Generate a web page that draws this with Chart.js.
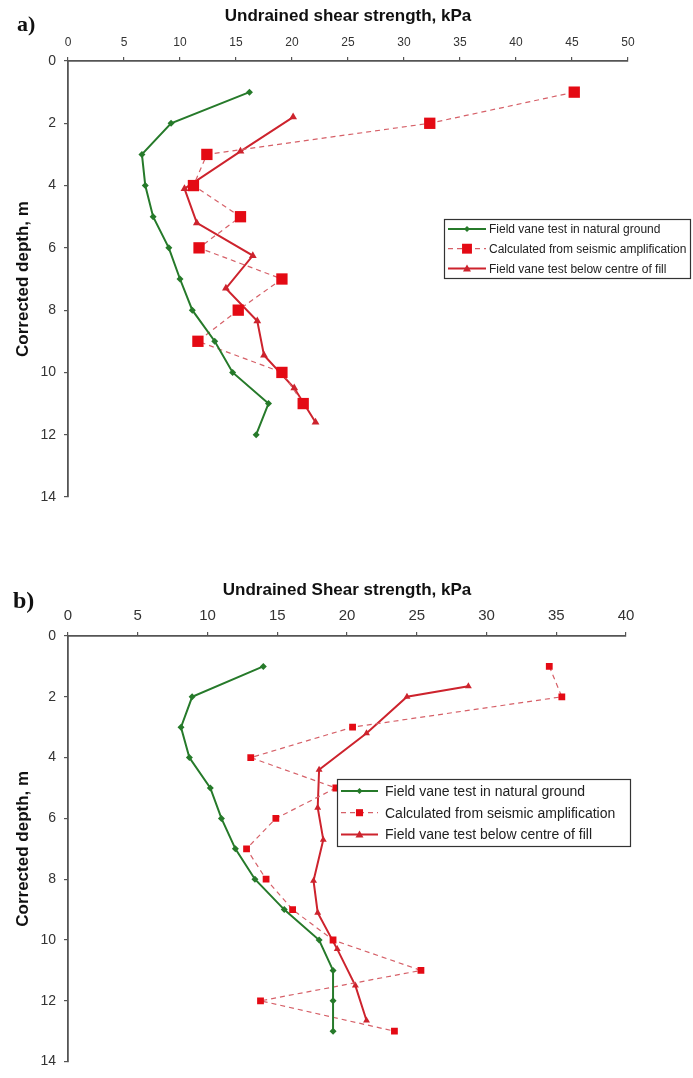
<!DOCTYPE html>
<html>
<head>
<meta charset="utf-8">
<script src="https://cdn.jsdelivr.net/npm/chart.js"></script>
<style>
  body { margin: 0; background: #fff; }
  #page { position: relative; width: 693px; height: 1078px; overflow: hidden; }
  .panel { position: absolute; left: 0; }
  .tag { position: absolute; font-family: "Liberation Serif", "DejaVu Serif", serif; font-weight: bold; line-height: 1; color: #111; }
</style>
</head>
<body>
<div id="page">
  <div class="panel" style="top:0px"><canvas id="chartA" width="693" height="540"></canvas></div>
  <div class="panel" style="top:560px"><canvas id="chartB" width="693" height="518"></canvas></div>
  <div class="tag" style="left:17px; top:13px; font-size:22px">a)</div>
  <div class="tag" style="left:13px; top:588px; font-size:24px">b)</div>
</div>
<script>
// panel a) - depths in m, strengths in kPa
const natDepthA = [1, 2, 3, 4, 5, 6, 7, 8, 9, 10, 11, 12];
const natGroundA = [16.2, 9.2, 6.6, 6.9, 7.6, 9.0, 10.0, 11.1, 13.1, 14.7, 17.9, 16.8];
const seisDepthA = [1, 2, 3, 4, 5, 6, 7, 8, 9, 10, 11];
const seismicA = [45.2, 32.3, 12.4, 11.2, 15.4, 11.7, 19.1, 15.2, 11.6, 19.1, 21.0];
const fillDepthA = [1.8, 2.9, 4.1, 5.2, 6.25, 7.3, 8.35, 9.45, 10.5, 11.6];
const fillA = [20.1, 15.4, 10.4, 11.5, 16.5, 14.1, 16.9, 17.5, 20.2, 22.1];

// panel b)
const natDepthB = [1, 2, 3, 4, 5, 6, 7, 8, 9, 10, 11, 12, 13];
const natGroundB = [14.0, 8.9, 8.1, 8.7, 10.2, 11.0, 12.0, 13.4, 15.5, 18.0, 19.0, 19.0, 19.0];
const seisDepthB = [1, 2, 3, 4, 5, 6, 7, 8, 9, 10, 11, 12, 13];
const seismicB = [34.5, 35.4, 20.4, 13.1, 19.2, 14.9, 12.8, 14.2, 16.1, 19.0, 25.3, 13.8, 23.4];
const fillDepthB = [1.65, 2.0, 3.2, 4.4, 5.65, 6.7, 8.05, 9.1, 10.3, 11.5, 12.65];
const fillB = [28.7, 24.3, 21.4, 18.0, 17.9, 18.3, 17.6, 17.9, 19.3, 20.6, 21.4];

const seriesNames = [
  'Field vane test in natural ground',
  'Calculated from seismic amplification',
  'Field vane test below centre of fill'
];
const depthTicks = [0, 2, 4, 6, 8, 10, 12, 14];

const FONT = '"Liberation Sans", Arial, sans-serif';
const GREEN = 'rgb(38,122,42)';
const RED = 'rgb(205,35,45)';
const SQUARE = 'rgb(228,10,20)';
const DASHED = 'rgb(214,96,104)';

function pts(xs, ys) {
  return xs.map((v, i) => ({ x: v, y: ys[i] }));
}

// small marker shapes for the legend samples
function marker(ctx, style, x, y, r) {
  ctx.beginPath();
  if (style === 'rect') {
    const s = r * Math.SQRT1_2;
    ctx.rect(x - s, y - s, 2 * s, 2 * s);
  } else if (style === 'rectRot') {
    ctx.moveTo(x, y - r); ctx.lineTo(x + r, y); ctx.lineTo(x, y + r); ctx.lineTo(x - r, y);
    ctx.closePath();
  } else {
    const h = r * 1.5, w = r * 0.87;
    ctx.moveTo(x, y - r); ctx.lineTo(x + w * 1.15, y + h / 2); ctx.lineTo(x - w * 1.15, y + h / 2);
    ctx.closePath();
  }
  ctx.fill();
}

// boxed legend drawn inside the plot, over the data
const boxLegend = {
  id: 'boxLegend',
  afterDatasetsDraw(chart, args, o) {
    const ctx = chart.ctx;
    const dsets = chart.data.datasets;
    ctx.save();
    ctx.fillStyle = '#fff';
    ctx.fillRect(o.x, o.y, o.w, o.h);
    ctx.strokeStyle = '#333';
    ctx.lineWidth = 1.2;
    ctx.strokeRect(o.x + 0.5, o.y + 0.5, o.w, o.h);
    ctx.font = o.fontSize + 'px ' + FONT;
    ctx.textBaseline = 'middle';
    dsets.forEach((ds, i) => {
      const cy = o.y + o.first + i * o.row;
      ctx.strokeStyle = ds.borderColor;
      ctx.lineWidth = ds.borderWidth;
      ctx.setLineDash(ds.borderDash || []);
      ctx.beginPath();
      ctx.moveTo(o.x + 4, cy);
      ctx.lineTo(o.x + 4 + o.sample, cy);
      ctx.stroke();
      ctx.setLineDash([]);
      ctx.fillStyle = ds.pointBackgroundColor;
      marker(ctx, ds.pointStyle, o.x + 4 + o.sample / 2, cy, o.marks[i]);
      ctx.fillStyle = '#222';
      ctx.fillText(ds.label, o.x + o.textX, cy + 1);
    });
    ctx.restore();
  }
};

function makePanel(id, cfg) {
  new Chart(document.getElementById(id), {
    type: 'scatter',
    data: {
      datasets: [
        {
          label: seriesNames[0], data: pts(cfg.nat, cfg.natDepth), showLine: true,
          borderColor: GREEN, borderWidth: 2, pointStyle: 'rectRot',
          pointRadius: cfg.r[0], pointBackgroundColor: GREEN, pointBorderColor: GREEN, pointBorderWidth: 0
        },
        {
          label: seriesNames[1], data: pts(cfg.seis, cfg.seisDepth), showLine: true,
          borderColor: DASHED, borderWidth: 1.2, borderDash: [5, 4], pointStyle: 'rect',
          pointRadius: cfg.r[1], pointBackgroundColor: SQUARE, pointBorderColor: SQUARE, pointBorderWidth: 0
        },
        {
          label: seriesNames[2], data: pts(cfg.fill, cfg.fillDepth), showLine: true,
          borderColor: RED, borderWidth: 2, pointStyle: 'triangle',
          pointRadius: cfg.r[2], pointBackgroundColor: RED, pointBorderColor: RED, pointBorderWidth: 0
        }
      ]
    },
    options: {
      responsive: false,
      animation: false,
      devicePixelRatio: 1,
      layout: { padding: cfg.pad },
      plugins: {
        legend: { display: false },
        tooltip: { enabled: false },
        boxLegend: cfg.legend
      },
      scales: {
        x: {
          type: 'linear', position: 'top', min: 0, max: cfg.xMax,
          ticks: { stepSize: 5, color: '#333', padding: 7, font: { family: FONT, size: cfg.xTickSize } },
          grid: { drawOnChartArea: false, tickLength: 4, color: '#555', lineWidth: 1.2 },
          border: { color: '#555', width: 1.8 },
          title: {
            display: true, text: cfg.title, color: '#111',
            font: { family: FONT, size: 17, weight: 'bold' }, padding: { top: cfg.titleTop, bottom: 0 }
          },
          afterFit: s => { s.height = cfg.axisTop; }
        },
        y: {
          type: 'linear', position: 'left', reverse: true, min: 0, max: 14,
          afterBuildTicks: s => { s.ticks = depthTicks.map(v => ({ value: v })); },
          ticks: { color: '#333', padding: 8, font: { family: FONT, size: 14 } },
          grid: { drawOnChartArea: false, tickLength: 4, color: '#555', lineWidth: 1.2 },
          border: { color: '#555', width: 1.8 },
          title: {
            display: true, text: 'Corrected depth, m', color: '#111',
            font: { family: FONT, size: 17, weight: 'bold' }, padding: { top: 13, bottom: 0 }
          },
          afterFit: s => { s.width = 68; }
        }
      }
    },
    plugins: [boxLegend]
  });
}

makePanel('chartA', {
  nat: natGroundA, natDepth: natDepthA,
  seis: seismicA, seisDepth: seisDepthA,
  fill: fillA, fillDepth: fillDepthA,
  r: [3.5, 8, 4.5],
  xMax: 50, xTickSize: 12, axisTop: 61, titleTop: 6,
  title: 'Undrained shear strength, kPa',
  pad: { left: 0, top: 0, right: 65, bottom: 43 },
  legend: { x: 444, y: 219, w: 246, h: 59, first: 10, row: 19.7, sample: 38, textX: 45, fontSize: 12, marks: [3, 7, 4] }
});

makePanel('chartB', {
  nat: natGroundB, natDepth: natDepthB,
  seis: seismicB, seisDepth: seisDepthB,
  fill: fillB, fillDepth: fillDepthB,
  r: [3.5, 4.8, 4],
  xMax: 40, xTickSize: 15, axisTop: 76, titleTop: 20,
  title: 'Undrained Shear strength, kPa',
  pad: { left: 0, top: 0, right: 67, bottom: 7 },
  legend: { x: 337, y: 219, w: 293, h: 67, first: 12, row: 21.7, sample: 37, textX: 48, fontSize: 14, marks: [3, 5, 4] }
});
</script>
</body>
</html>
